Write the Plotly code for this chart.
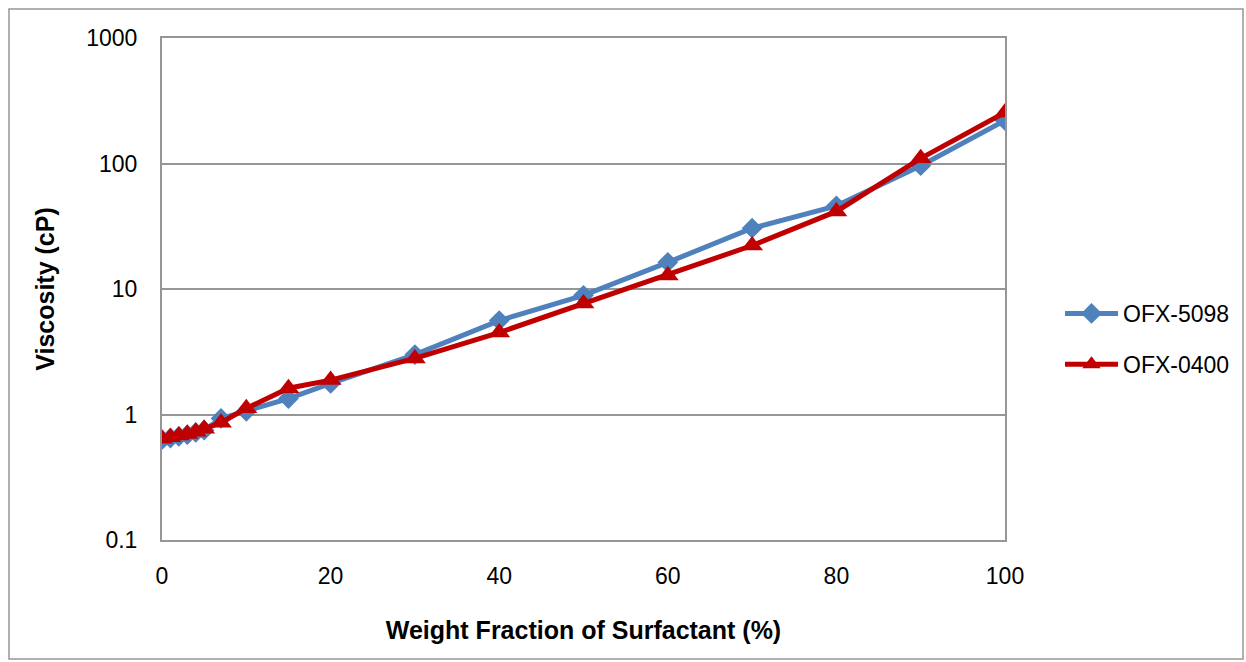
import plotly.graph_objects as go

x_vals = [0, 1, 2, 3, 4, 5, 7, 10, 15, 20, 30, 40, 50, 60, 70, 80, 90, 100]
ofx5098 = [0.63, 0.65, 0.67, 0.69, 0.72, 0.75, 0.93, 1.06, 1.34, 1.77, 3.0, 5.6, 8.9, 16.3, 30.5, 46, 96, 220]
ofx0400 = [0.64, 0.66, 0.68, 0.70, 0.73, 0.77, 0.86, 1.12, 1.62, 1.88, 2.8, 4.5, 7.65, 12.8, 22.2, 41.5, 110, 255]
y_ticks = [0.1, 1, 10, 100, 1000]
y_tick_text = ["0.1", "1", "10", "100", "1000"]
x_ticks = [0, 20, 40, 60, 80, 100]

FONT = "Liberation Sans"
GRAY = "#969696"

fig = go.Figure()
fig.add_trace(go.Scatter(
    x=x_vals, y=ofx5098, name="OFX-5098", mode="lines+markers", legendgroup="a",
    line=dict(color="#4F81BD", width=5),
    marker=dict(symbol="diamond", size=16, color="#4F81BD"),
))
fig.add_trace(go.Scatter(
    x=x_vals, y=ofx0400, name="OFX-0400", mode="lines+markers", legendgroup="b",
    line=dict(color="#C00000", width=5),
    marker=dict(symbol="triangle-up", size=19, color="#C00000"),
))

L, R, T, B = 162, 1005, 38, 540
W, H = 1246, 662
pw, ph = R - L, B - T

fig.update_layout(
    width=W, height=H,
    margin=dict(l=L, r=W - R, t=T, b=H - B, autoexpand=False),
    paper_bgcolor="white", plot_bgcolor="white",
    font=dict(family=FONT, size=23, color="black"),
    showlegend=True,
    legend=dict(x=(1060 - L) / pw, y=(B - 292) / ph, xanchor="left", yanchor="top",
                font=dict(size=23), traceorder="grouped", tracegroupgap=18,
                itemwidth=53, bgcolor="rgba(0,0,0,0)"),
    xaxis=dict(range=[0, 100], tickvals=x_ticks, showgrid=False, zeroline=False,
               showline=True, linecolor=GRAY, linewidth=2, ticks="",
               ticklabelstandoff=14,
               title=dict(text="<b>Weight Fraction of Surfactant (%)</b>", standoff=34,
                          font=dict(size=25)),
               mirror=True),
    yaxis=dict(type="log", range=[-1, 3], tickvals=y_ticks, ticktext=y_tick_text,
               showgrid=True, gridcolor=GRAY, gridwidth=2, zeroline=False,
               showline=True, linecolor=GRAY, linewidth=2, ticks="",
               ticklabelstandoff=18,
               title=dict(text="<b>Viscosity (cP)</b>", standoff=24, font=dict(size=25)),
               mirror=True),
)

# outer chart frame
fig.add_shape(type="rect", xref="paper", yref="paper",
              x0=(9 - L) / pw, x1=(1243 - L) / pw,
              y0=(B - 659) / ph, y1=(B - 9) / ph,
              line=dict(color=GRAY, width=1.5), fillcolor="rgba(0,0,0,0)", layer="below")

fig.write_html("out.html", post_script="document.body.style.margin='0';",
               config={"displayModeBar": False})
